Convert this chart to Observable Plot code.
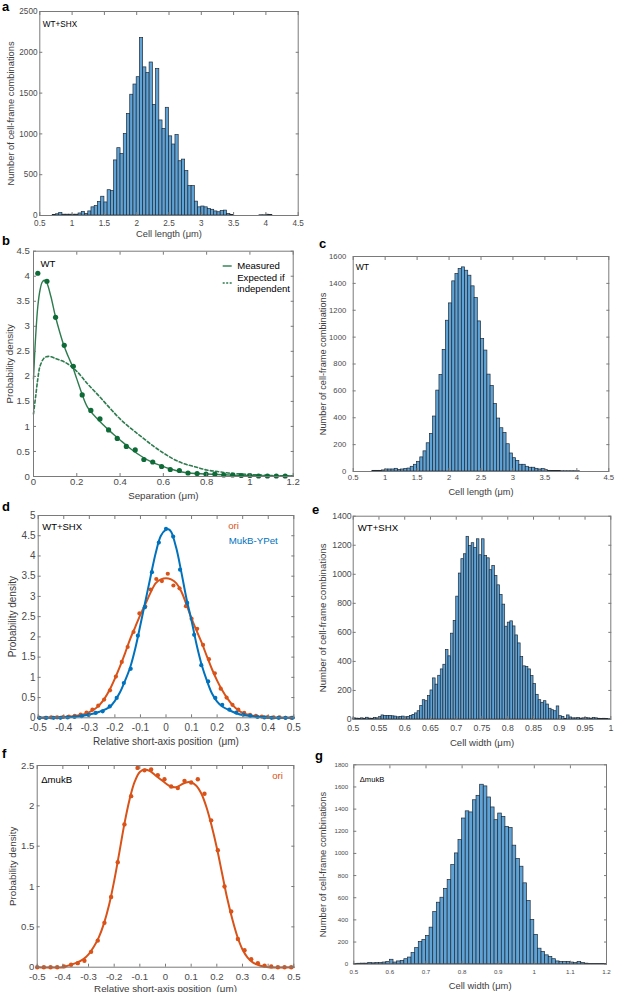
<!DOCTYPE html>
<html><head><meta charset="utf-8">
<script src="https://cdn.jsdelivr.net/npm/d3@7"></script>
<script src="https://cdn.jsdelivr.net/npm/@observablehq/plot@0.6"></script>
<style>
body{margin:0;background:#fff;}
#fig{position:relative;width:617px;height:992px;font-family:'Liberation Sans',Arial,sans-serif;overflow:hidden;background:#fff}
.p{position:absolute}
.lt{position:absolute;font-weight:bold;font-size:13px;line-height:13px;color:#000}
</style></head>
<body><div id="fig"></div>
<script>
// ---------- DATA ----------
// Panel a: WT+SHX cell length histogram (bin width 0.05 from 0.70)
const aStart = 0.70, aWidth = 0.05;
const aCounts = [5,15,30,10,10,10,10,10,25,45,20,50,100,115,165,230,160,310,300,675,825,755,1000,1245,1480,1605,1695,2175,1815,1745,1875,1355,1795,1165,1060,1320,970,870,985,665,685,545,360,360,170,100,110,100,80,70,50,40,55,60,20,5,0,0,0,0,0,0,0,0,3,3,10,8];
const aXTicks = [0.5,1,1.5,2,2.5,3,3.5,4,4.5];
const aYTicks = [0,500,1000,1500,2000,2500];

// Panel b: WT separation
const bDotX = [0.02,0.062,0.102,0.142,0.184,0.225,0.265,0.307,0.347,0.387,0.429,0.47,0.51,0.551,0.592,0.632,0.674,0.714,0.756,0.797,0.838,0.879,0.92,0.96,1.0,1.04,1.081,1.122,1.163];
const bDotY = [4.06,3.9,3.18,2.62,2.2,1.63,1.32,1.15,0.93,0.76,0.6,0.53,0.34,0.29,0.2,0.14,0.12,0.07,0.06,0.05,0.05,0.03,0.03,0.02,0.02,0.01,0.01,0.01,0.01];
const bMeasX = [0,0.01,0.02,0.03,0.04,0.05,0.06,0.08,0.1,0.12,0.14,0.16,0.18,0.2,0.22,0.25,0.3,0.35,0.4,0.45,0.5,0.55,0.6,0.65,0.7,0.8,0.9,1.0,1.1,1.2];
const bMeasY = [1.95,2.8,3.4,3.72,3.88,3.92,3.88,3.6,3.22,2.9,2.62,2.4,2.2,1.95,1.7,1.38,1.13,0.92,0.73,0.55,0.4,0.28,0.2,0.13,0.08,0.05,0.03,0.02,0.01,0.01];
const bExpX = [0,0.01,0.02,0.03,0.05,0.07,0.1,0.15,0.2,0.25,0.3,0.35,0.4,0.45,0.5,0.55,0.6,0.65,0.7,0.75,0.8,0.85,0.9,1.0,1.1,1.2];
const bExpY = [1.25,1.6,1.95,2.2,2.37,2.4,2.36,2.27,2.1,1.85,1.62,1.38,1.15,0.96,0.79,0.62,0.47,0.34,0.25,0.19,0.13,0.1,0.07,0.04,0.02,0.01];
const bXTicks = [0,0.2,0.4,0.6,0.8,1,1.2];
const bYTicks = [0,0.5,1,1.5,2,2.5,3,3.5,4,4.5];

// Panel c: WT cell length histogram (bin width 0.05 from 0.80)
const cStart = 0.80, cWidth = 0.05;
const cCounts = [5,5,5,8,15,15,15,20,12,15,18,22,35,50,72,105,150,210,280,409,602,719,905,1122,1251,1415,1470,1507,1519,1494,1457,1378,1291,1117,986,900,721,637,503,394,322,287,203,134,99,79,50,50,35,28,28,20,15,18,10,5,4,3,3,2,2,2,2,2,2];
const cXTicks = [0.5,1,1.5,2,2.5,3,3.5,4,4.5];
const cYTicks = [0,200,400,600,800,1000,1200,1400,1600];

// Panel d: WT+SHX short-axis position
const dOriX = [-0.495,-0.472,-0.449,-0.426,-0.403,-0.38,-0.357,-0.334,-0.311,-0.288,-0.265,-0.242,-0.219,-0.196,-0.173,-0.15,-0.127,-0.104,-0.081,-0.06,-0.038,-0.016,0.007,0.029,0.053,0.078,0.1,0.122,0.145,0.168,0.191,0.214,0.237,0.26,0.283,0.306,0.329,0.352,0.375,0.398,0.421,0.444,0.467,0.49];
const dOriY = [0,0,0.01,0.01,0.02,0.03,0.05,0.08,0.13,0.2,0.3,0.45,0.68,1.02,1.38,1.75,2.12,2.58,2.75,3.17,3.43,3.38,3.56,3.27,3.2,2.76,2.45,2.2,1.8,1.45,1.1,0.72,0.5,0.32,0.2,0.12,0.07,0.05,0.03,0.02,0.01,0.01,0,0];
const dOriLineX = [-0.5,-0.45,-0.4,-0.35,-0.32,-0.3,-0.28,-0.26,-0.24,-0.22,-0.2,-0.18,-0.16,-0.14,-0.12,-0.1,-0.08,-0.06,-0.04,-0.02,0,0.02,0.04,0.06,0.08,0.1,0.12,0.14,0.16,0.18,0.2,0.22,0.24,0.26,0.28,0.3,0.32,0.35,0.4,0.45,0.5];
const dOriLineY = [0,0.01,0.02,0.05,0.09,0.14,0.21,0.32,0.48,0.7,0.97,1.27,1.6,1.95,2.25,2.55,2.82,3.1,3.33,3.42,3.45,3.42,3.33,3.12,2.8,2.45,2.15,1.85,1.52,1.2,0.92,0.68,0.48,0.32,0.2,0.12,0.08,0.04,0.01,0,0];
const dMukX = [-0.495,-0.468,-0.44,-0.413,-0.385,-0.358,-0.33,-0.303,-0.275,-0.248,-0.22,-0.193,-0.165,-0.138,-0.11,-0.083,-0.055,-0.028,0,0.028,0.055,0.083,0.11,0.138,0.165,0.193,0.22,0.248,0.275,0.303,0.33,0.358,0.385,0.413,0.44,0.468,0.495];
const dMukY = [0,0,0,0,0.01,0.02,0.04,0.07,0.12,0.16,0.28,0.49,0.86,1.21,2.03,2.73,3.6,4.33,4.67,4.48,3.66,2.84,2.05,1.3,0.9,0.49,0.32,0.2,0.13,0.08,0.05,0.02,0.01,0,0,0,0];
const dMukLineX = [-0.5,-0.4,-0.35,-0.3,-0.26,-0.22,-0.2,-0.18,-0.16,-0.14,-0.12,-0.1,-0.08,-0.06,-0.04,-0.02,0,0.01,0.02,0.04,0.06,0.08,0.1,0.12,0.14,0.16,0.18,0.2,0.22,0.25,0.28,0.3,0.35,0.4,0.5];
const dMukLineY = [0,0.01,0.03,0.08,0.15,0.27,0.42,0.63,0.92,1.25,1.72,2.3,2.9,3.5,4.08,4.5,4.65,4.66,4.6,4.2,3.6,2.95,2.4,1.8,1.3,0.92,0.6,0.4,0.28,0.18,0.1,0.07,0.03,0.01,0];
const dXTicks = [-0.5,-0.4,-0.3,-0.2,-0.1,0,0.1,0.2,0.3,0.4,0.5];
const dYTicks = [0,0.5,1,1.5,2,2.5,3,3.5,4,4.5,5];

// Panel e: WT+SHX cell width histogram (bin width 0.005 from 0.500)
const eStart = 0.5, eWidth = 0.005;
const eCounts = [8,6,5,8,5,12,6,5,10,8,18,28,25,25,25,22,20,15,18,20,15,18,25,32,42,57,92,133,126,161,200,283,240,301,345,377,478,435,591,678,846,1005,1104,1138,1258,1195,1214,1182,1241,1131,1241,1126,1110,1028,1058,989,924,858,791,639,667,676,641,579,524,430,366,361,345,299,244,170,133,115,126,103,74,64,57,90,23,18,5,28,14,8,8,10,6,8,10,8,6,10,8,5,4,5,3,2];
const eXTicks = [0.5,0.55,0.6,0.65,0.7,0.75,0.8,0.85,0.9,0.95,1];
const eYTicks = [0,200,400,600,800,1000,1200,1400];

// Panel f: ΔmukB short-axis position
const fOriX = [-0.5,-0.474,-0.448,-0.422,-0.396,-0.368,-0.342,-0.316,-0.29,-0.264,-0.238,-0.212,-0.186,-0.16,-0.134,-0.109,-0.082,-0.056,-0.03,-0.004,0.022,0.048,0.074,0.1,0.126,0.152,0.178,0.204,0.23,0.256,0.282,0.308,0.334,0.36,0.386,0.412,0.438,0.464,0.49];
const fOriY = [0,0,0,0,0.01,0.03,0.05,0.08,0.19,0.33,0.55,0.87,1.3,1.77,2.12,2.47,2.44,2.45,2.38,2.33,2.24,2.22,2.31,2.29,2.33,2.15,1.82,1.45,1.0,0.69,0.35,0.21,0.1,0.05,0.02,0.01,0,0,0];
const fLineX = [-0.5,-0.4,-0.38,-0.35,-0.32,-0.3,-0.28,-0.26,-0.24,-0.22,-0.2,-0.18,-0.16,-0.14,-0.12,-0.1,-0.08,-0.06,-0.04,-0.02,0,0.02,0.04,0.06,0.08,0.1,0.12,0.14,0.16,0.18,0.2,0.22,0.24,0.26,0.28,0.3,0.32,0.34,0.36,0.38,0.4,0.5];
const fLineY = [0,0,0.02,0.05,0.1,0.16,0.25,0.37,0.54,0.77,1.07,1.42,1.78,2.08,2.3,2.42,2.45,2.43,2.38,2.33,2.28,2.24,2.23,2.26,2.29,2.29,2.25,2.15,1.98,1.75,1.48,1.17,0.86,0.6,0.38,0.22,0.12,0.06,0.03,0.01,0,0];
const fXTicks = [-0.5,-0.4,-0.3,-0.2,-0.1,0,0.1,0.2,0.3,0.4,0.5];
const fYTicks = [0,0.5,1,1.5,2,2.5];

// Panel g: ΔmukB cell width histogram (bin width 0.01 from 0.50)
const gStart = 0.5, gWidth = 0.01;
const gCounts = [3,4,5,5,12,8,10,10,15,20,40,15,25,30,45,60,100,145,200,220,255,330,470,555,600,680,760,895,1000,1120,1315,1380,1370,1480,1520,1620,1605,1505,1415,1300,1360,1330,1240,1230,1070,950,880,730,570,400,265,140,110,80,65,45,25,20,20,20,15,10,20,10,5,3,2,2,2,2];
const gXTicks = [0.5,0.6,0.7,0.8,0.9,1,1.1,1.2];
const gYTicks = [0,200,400,600,800,1000,1200,1400,1600,1800];

// ---------- STYLE ----------
const FONT = "'Liberation Sans', Arial, sans-serif";
const AX = "#7a7a7a", TXT = "#4a4a4a";
const HFILL = "#5fa2d6", HSTROKE = "#1e2a36";
const GREEN_DOT = "#0e6a37", GREEN_LINE = "#2d7b4e";
const ORANGE = "#d95319", BLUE = "#0072bd";

const fig = document.getElementById("fig");

function hist(start, width, counts) {
  return counts.map((c, i) => ({x1: start + i * width, x2: start + (i + 1) * width, count: c}));
}
function pts(xs, ys) { return xs.map((x, i) => ({x, y: ys[i]})); }

function panel(cfg) {
  const [fl, ft, fr, fb] = cfg.frame;
  const {left, top, width, height} = cfg;
  const ax = {tickSize: -3, stroke: AX, fill: TXT, fontSize: cfg.tickFont, tickFormat: d => String(d), label: null};
  const chart = Plot.plot({
    width, height,
    marginLeft: fl - left, marginTop: ft - top, marginRight: left + width - fr, marginBottom: top + height - fb,
    style: {fontFamily: FONT, overflow: "visible", background: "transparent"},
    x: {domain: cfg.xDomain},
    y: {domain: cfg.yDomain},
    marks: [
      ...cfg.marks,
      Plot.frame({stroke: AX, strokeWidth: 1}),
      Plot.axisX({...ax, ticks: cfg.xTicks, anchor: "bottom", tickPadding: cfg.xOff + 3}),
      Plot.axisX({...ax, ticks: cfg.xTicks, anchor: "top", tickPadding: 3, tickFormat: () => ""}),
      Plot.axisY({...ax, ticks: cfg.yTicks, anchor: "left", tickPadding: cfg.yOff + 3}),
      Plot.axisY({...ax, ticks: cfg.yTicks, anchor: "right", tickPadding: 3, tickFormat: () => ""}),
      Plot.axisX({ticks: [], anchor: "bottom", tickSize: 0, label: cfg.xLabel, labelAnchor: "center", labelArrow: "none", labelOffset: cfg.xLabelOffset, fontSize: cfg.labelFont, fill: "#3c3c3c"}),
      Plot.axisY({ticks: [], anchor: "left", tickSize: 0, label: cfg.yLabel, labelAnchor: "center", labelArrow: "none", labelOffset: cfg.yLabelOffset, fontSize: cfg.labelFont, fill: "#3c3c3c"})
    ]
  });
  const div = document.createElement("div");
  div.className = "p";
  div.style.left = left + "px"; div.style.top = top + "px";
  div.appendChild(chart);
  fig.appendChild(div);
}

function histMarks(start, width, counts) {
  return [Plot.rectY(hist(start, width, counts), {x1: "x1", x2: "x2", y: "count", fill: HFILL, stroke: HSTROKE, strokeWidth: 0.7})];
}
function note(text, frameAnchor, dx, dy, fontSize, fill = "#000") {
  return Plot.text([text], {frameAnchor, dx, dy, textAnchor: "start", lineAnchor: "middle", fontSize, fill});
}

// ---------- PANELS ----------
panel({left: 0, top: 0, width: 310, height: 245, frame: [39.3, 11, 297.7, 215],
  xDomain: [0.5, 4.5], yDomain: [0, 2500], xTicks: aXTicks, yTicks: aYTicks,
  tickFont: 8.2, labelFont: 9.3, xOff: 4.8, yOff: 2.3, xLabel: "Cell length (μm)", yLabel: "Number of cell-frame combinations",
  xLabelOffset: 21.5, yLabelOffset: 32.5,
  marks: [...histMarks(aStart, aWidth, aCounts), note("WT+SHX", "top-left", 3, 13, 8.2)]});

panel({left: 0, top: 245, width: 310, height: 260, frame: [33, 250.7, 292.7, 476],
  xDomain: [0, 1.2], yDomain: [0, 4.5], xTicks: bXTicks, yTicks: bYTicks,
  tickFont: 9.6, labelFont: 9.8, xOff: 1.5, yOff: 3.7, xLabel: "Separation (μm)", yLabel: "Probability density",
  xLabelOffset: 22, yLabelOffset: 27.5,
  marks: [
    Plot.line(pts(bExpX, bExpY), {x: "x", y: "y", stroke: GREEN_LINE, strokeWidth: 1.6, strokeDasharray: "3,2.4", curve: "catmull-rom"}),
    Plot.line(pts(bMeasX, bMeasY), {x: "x", y: "y", stroke: GREEN_LINE, strokeWidth: 1.4, curve: "catmull-rom"}),
    Plot.dot(pts(bDotX, bDotY), {x: "x", y: "y", r: 2.6, fill: GREEN_DOT, stroke: "none"}),
    note("WT", "top-left", 7, 13, 9.6),
    note("Measured", "top-right", -56, 14.3, 9.6),
    note("Expected if", "top-right", -56, 26.3, 9.6),
    note("independent", "top-right", -56, 37.6, 9.6)
  ]});

panel({left: 310, top: 245, width: 307, height: 260, frame: [352.7, 256, 608.3, 471],
  xDomain: [0.5, 4.5], yDomain: [0, 1600], xTicks: cXTicks, yTicks: cYTicks,
  tickFont: 7.7, labelFont: 9.2, xOff: 3.3, yOff: 7, xLabel: "Cell length (μm)", yLabel: "Number of cell-frame combinations",
  xLabelOffset: 23, yLabelOffset: 34,
  marks: [...histMarks(cStart, cWidth, cCounts), note("WT", "top-left", 2.5, 11, 8.6)]});

panel({left: 0, top: 505, width: 310, height: 250, frame: [37.7, 515, 293.3, 717.3],
  xDomain: [-0.5, 0.5], yDomain: [0, 5], xTicks: dXTicks, yTicks: dYTicks,
  tickFont: 10, labelFont: 10, xOff: 5.6, yOff: 2.7, xLabel: "Relative short-axis position  (μm)", yLabel: "Probability density",
  xLabelOffset: 27, yLabelOffset: 29,
  marks: [
    Plot.line(pts(dOriLineX, dOriLineY), {x: "x", y: "y", stroke: ORANGE, strokeWidth: 2, curve: "catmull-rom"}),
    Plot.dot(pts(dOriX, dOriY), {x: "x", y: "y", r: 2.1, fill: ORANGE, stroke: "none"}),
    Plot.line(pts(dMukLineX, dMukLineY), {x: "x", y: "y", stroke: BLUE, strokeWidth: 2, curve: "catmull-rom"}),
    Plot.dot(pts(dMukX, dMukY), {x: "x", y: "y", r: 2.1, fill: BLUE, stroke: "none"}),
    note("WT+SHX", "top-left", 4, 11.7, 9.5),
    note("ori", "top-right", -65.6, 10, 9.7, ORANGE),
    note("MukB-YPet", "top-right", -65, 25, 9.7, BLUE)
  ]});

panel({left: 310, top: 505, width: 307, height: 250, frame: [352.7, 515.7, 610.3, 719],
  xDomain: [0.5, 1], yDomain: [0, 1400], xTicks: eXTicks, yTicks: eYTicks,
  tickFont: 8.7, labelFont: 9.6, xOff: 5, yOff: 1.5, xLabel: "Cell width (μm)", yLabel: "Number of cell-frame combinations",
  xLabelOffset: 26.5, yLabelOffset: 34,
  marks: [...histMarks(eStart, eWidth, eCounts), note("WT+SHX", "top-left", 4.6, 11.6, 9.6)]});

panel({left: 0, top: 755, width: 310, height: 237, frame: [36.7, 765, 293.3, 966.7],
  xDomain: [-0.5, 0.5], yDomain: [0, 2.5], xTicks: fXTicks, yTicks: fYTicks,
  tickFont: 9.6, labelFont: 9.8, xOff: 5.8, yOff: 2.8, xLabel: "Relative short-axis position  (μm)", yLabel: "Probability density",
  xLabelOffset: 24.3, yLabelOffset: 28,
  marks: [
    Plot.line(pts(fLineX, fLineY), {x: "x", y: "y", stroke: ORANGE, strokeWidth: 2, curve: "catmull-rom"}),
    Plot.dot(pts(fOriX, fOriY), {x: "x", y: "y", r: 2.2, fill: ORANGE, stroke: "none"}),
    note("ΔmukB", "top-left", 4, 14.3, 9.6),
    note("ori", "top-right", -21.6, 10.5, 9.6, ORANGE)
  ]});

panel({left: 310, top: 755, width: 307, height: 237, frame: [353.3, 764.3, 606, 963.7],
  xDomain: [0.5, 1.2], yDomain: [0, 1800], xTicks: gXTicks, yTicks: gYTicks,
  tickFont: 6.2, labelFont: 9.4, xOff: 5.3, yOff: 5.6, xLabel: "Cell width (μm)", yLabel: "Number of cell-frame combinations",
  xLabelOffset: 24.8, yLabelOffset: 34.8,
  marks: [...histMarks(gStart, gWidth, gCounts), note("ΔmukB", "top-left", 6, 15, 7.6)]});

// ---------- PANEL LETTERS & LEGEND SWATCHES ----------
const letters = [["a", 2, 0], ["b", 2, 234], ["c", 319, 237], ["d", 2, 500], ["e", 312, 503], ["f", 2, 747], ["g", 315, 749]];
for (const [t, x, y] of letters) {
  const s = document.createElement("div");
  s.className = "lt"; s.textContent = t; s.style.left = x + "px"; s.style.top = y + "px";
  fig.appendChild(s);
}
const sw = document.createElementNS("http://www.w3.org/2000/svg", "svg");
sw.setAttribute("width", 20); sw.setAttribute("height", 30);
sw.style.position = "absolute"; sw.style.left = "220px"; sw.style.top = "258px";
sw.innerHTML = `<line x1="2.7" x2="11.7" y1="8" y2="8" stroke="${GREEN_LINE}" stroke-width="1.4"/>
<line x1="2.7" x2="11.7" y1="25" y2="25" stroke="${GREEN_LINE}" stroke-width="1.4" stroke-dasharray="2,1.5"/>`;
fig.appendChild(sw);
</script>
</body></html>
